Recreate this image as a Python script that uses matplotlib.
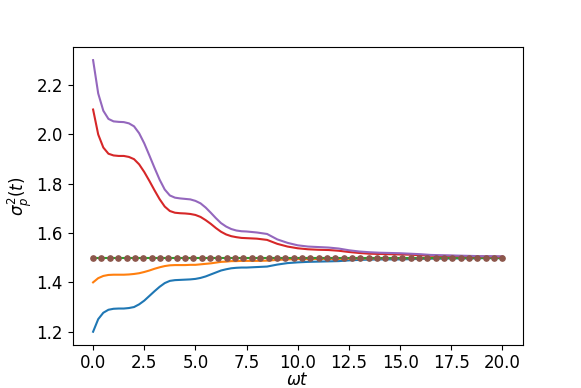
import numpy as np
import matplotlib
matplotlib.use("Agg")
import matplotlib.pyplot as plt

plt.rcParams['font.size'] = 12

# sample times (finer where the curves bend fast)
t = np.concatenate([np.arange(0, 8.01, 0.25), np.arange(8.5, 20.01, 0.5)])

var_1 = [1.200, 1.251, 1.277, 1.289, 1.293, 1.294, 1.294, 1.296, 1.300, 1.311,
         1.326, 1.345, 1.364, 1.382, 1.397, 1.406, 1.409, 1.410, 1.411, 1.412,
         1.414, 1.418, 1.424, 1.432, 1.440, 1.448, 1.453, 1.457, 1.459, 1.460,
         1.460, 1.461, 1.462,
         1.464, 1.472, 1.478, 1.481, 1.483, 1.484, 1.485, 1.486, 1.489, 1.491,
         1.492, 1.493, 1.493, 1.493, 1.494, 1.495, 1.496, 1.496, 1.497, 1.497,
         1.497, 1.498, 1.498, 1.498]

var_2 = [1.400, 1.417, 1.426, 1.430, 1.431, 1.431, 1.431, 1.432, 1.434, 1.437,
         1.442, 1.448, 1.455, 1.461, 1.466, 1.469, 1.470, 1.470, 1.470, 1.471,
         1.471, 1.473, 1.475, 1.477, 1.480, 1.483, 1.484, 1.486, 1.486, 1.487,
         1.487, 1.487, 1.487,
         1.488, 1.491, 1.493, 1.494, 1.494, 1.495, 1.495, 1.495, 1.496, 1.497,
         1.497, 1.498, 1.498, 1.498, 1.498, 1.498, 1.499, 1.499, 1.499, 1.499,
         1.499, 1.499, 1.499, 1.499]

var_4 = [2.100, 1.999, 1.946, 1.921, 1.914, 1.912, 1.912, 1.908, 1.899, 1.878,
         1.847, 1.811, 1.773, 1.737, 1.707, 1.689, 1.682, 1.680, 1.679, 1.677,
         1.673, 1.665, 1.652, 1.637, 1.620, 1.605, 1.594, 1.587, 1.583, 1.580,
         1.579, 1.578, 1.577,
         1.572, 1.556, 1.545, 1.538, 1.534, 1.532, 1.531, 1.528, 1.523, 1.519,
         1.516, 1.515, 1.514, 1.513, 1.512, 1.510, 1.508, 1.507, 1.507, 1.506,
         1.505, 1.505, 1.504, 1.504]

var_5 = [2.300, 2.165, 2.095, 2.062, 2.052, 2.050, 2.049, 2.044, 2.032, 2.004,
         1.963, 1.914, 1.864, 1.816, 1.776, 1.752, 1.743, 1.740, 1.738, 1.736,
         1.730, 1.720, 1.703, 1.682, 1.660, 1.640, 1.626, 1.616, 1.610, 1.607,
         1.606, 1.604, 1.602,
         1.596, 1.574, 1.560, 1.550, 1.545, 1.543, 1.541, 1.537, 1.530, 1.525,
         1.522, 1.520, 1.519, 1.518, 1.516, 1.514, 1.511, 1.510, 1.509, 1.508,
         1.507, 1.506, 1.506, 1.505]

# steady state value
var_3 = [1.5] * len(t)
t_dots = np.linspace(0, 20, 50)
var_dots = [1.5] * len(t_dots)

fig = plt.figure(figsize=(5.81, 3.88), dpi=100)
ax = fig.add_axes([0.125, 0.11, 0.775, 0.77])
ax.plot(t, var_1)
ax.plot(t, var_2)
ax.plot(t, var_3)
ax.plot(t, var_4)
ax.plot(t, var_5)
ax.plot(t_dots, var_dots, 'o', ms=3.8)
ax.set_xlabel(r'$\omega t$')
ax.xaxis.set_label_coords(0.5, -0.085)
ax.set_ylabel(r'$\sigma_p^2(t)$', labelpad=2)
ax.set_xticks(np.arange(0, 20.1, 2.5))
ax.tick_params(axis='x', pad=2.5)

fig.savefig("out.png", dpi=100)
